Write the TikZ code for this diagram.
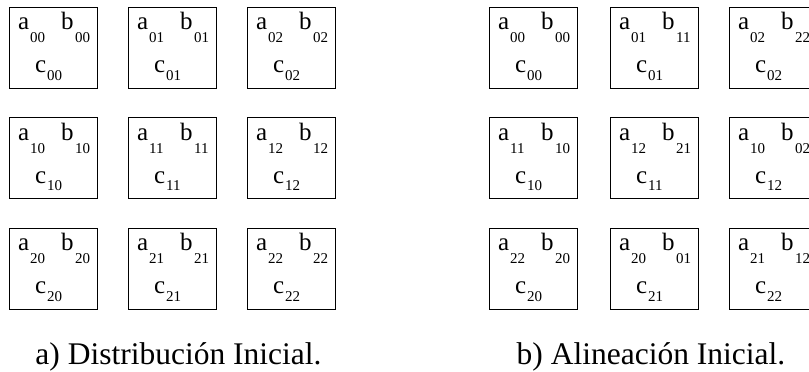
\documentclass[tikz,border=0pt]{standalone}
\usepackage{fontspec}
\setmainfont{Liberation Serif}

\tikzset{
    celda/.style={draw, line width=0.9pt, anchor=north west, inner sep=0pt, outer sep=0pt,
        minimum width=88pt, minimum height=81pt},
    letra/.style={anchor=base west, inner sep=0pt, font=\fontsize{25}{25}\selectfont},
    indice/.style={anchor=base west, inner sep=0pt, font=\fontsize{15}{15}\selectfont},
    titulo/.style={anchor=base, inner sep=0pt, font=\fontsize{31.5}{32}\selectfont}
}

% one processor cell: name, x, y (top left), index of a, b and c
\newcommand{\celda}[6]{%
    \node[celda] (#1) at (#2,#3) {};
    \node[letra]  (#1a)  at ([shift={(9,-23)}]#1.north west) {a};
    \node[indice] (#1ai) at ([shift={(21,-36)}]#1.north west) {#4};
    \node[letra]  (#1b)  at ([shift={(52,-23)}]#1.north west) {b};
    \node[indice] (#1bi) at ([shift={(66,-36)}]#1.north west) {#5};
    \node[letra]  (#1c)  at ([shift={(26,-66)}]#1.north west) {c};
    \node[indice] (#1ci) at ([shift={(38,-73.5)}]#1.north west) {#6};
}

\begin{document}
\begin{tikzpicture}[x=1pt, y=1pt]
    \useasboundingbox (0,0) rectangle (809,372);

    % a) initial distribution
    \foreach \i in {0,1,2} {
        \foreach \j in {0,1,2} {
            \pgfmathsetmacro{\cx}{9+119*\j}
            \pgfmathsetmacro{\cy}{365-110.5*\i}
            \celda{A\i\j}{\cx}{\cy}{\i\j}{\i\j}{\i\j}
        }
    }
    \node[titulo] (tituloA) at (178.5,7) {a) Distribución Inicial.};

    % b) initial alignment
    \foreach \n/\x/\y/\ia/\ib/\ic in {
        B00/489/365/00/00/00, B01/610/365/01/11/01, B02/729/365/02/22/02,
        B10/489/254.5/11/10/10, B11/610/254.5/12/21/11, B12/729/254.5/10/02/12,
        B20/489/144/22/20/20, B21/610/144/20/01/21, B22/729/144/21/12/22} {
        \celda{\n}{\x}{\y}{\ia}{\ib}{\ic}
    }
    \node[titulo] (tituloB) at (651,7) {b) Alineación Inicial.};
\end{tikzpicture}
\end{document}
